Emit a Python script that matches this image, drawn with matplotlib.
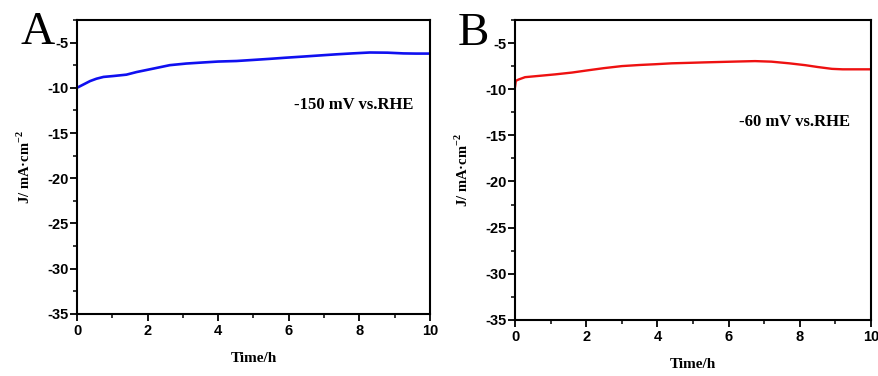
import numpy as np
import matplotlib.pyplot as plt
from matplotlib.ticker import MultipleLocator

plt.rcParams['axes.unicode_minus'] = False
plt.rcParams['mathtext.fontset'] = 'custom'
plt.rcParams['mathtext.rm'] = 'Liberation Serif:bold'
plt.rcParams['mathtext.bf'] = 'Liberation Serif:bold'

# panel A, -150 mV vs. RHE
time_a = [0, 0.2, 0.37, 0.55, 0.75, 1.03, 1.4, 1.69, 2.2, 2.63, 3.1, 3.58, 4.0, 4.52, 5.0, 5.47, 5.9, 6.41, 6.9, 7.36, 7.8, 8.3, 8.8, 9.25, 9.6, 10]
j_a = [-10.0, -9.6, -9.26, -9.0, -8.8, -8.7, -8.55, -8.26, -7.85, -7.5, -7.32, -7.2, -7.1, -7.04, -6.92, -6.8, -6.68, -6.55, -6.42, -6.3, -6.2, -6.1, -6.12, -6.2, -6.22, -6.22]

# panel B, -60 mV vs. RHE
time_b = [0, 0.02, 0.1, 0.28, 0.7, 1.12, 1.6, 2.06, 2.5, 3.0, 3.5, 3.93, 4.4, 4.87, 5.3, 5.8, 6.3, 6.74, 7.2, 7.7, 8.15, 8.5, 8.9, 9.2, 9.55, 10]
j_b = [-9.7, -9.1, -8.95, -8.7, -8.55, -8.4, -8.2, -7.95, -7.72, -7.5, -7.38, -7.3, -7.2, -7.15, -7.1, -7.05, -7.0, -6.96, -7.02, -7.2, -7.4, -7.6, -7.8, -7.85, -7.85, -7.85]

serif = 'Liberation Serif'
sans = 'Liberation Sans'

fig = plt.figure(figsize=(8.79, 3.76), dpi=100)
ax_a = fig.add_axes([0.0876, 0.165, 0.4014, 0.782])
ax_b = fig.add_axes([0.586, 0.149, 0.405, 0.798])

ax_a.plot(time_a, j_a, color='#1010f0', lw=1.9)
ax_b.plot(time_b, j_b, color='#ee1111', lw=1.7)

for ax, letter, note, note_xy in [(ax_a, 'A', '-150 mV vs.RHE', (0.952, 0.711)),
                                  (ax_b, 'B', '-60 mV vs.RHE', (0.941, 0.66))]:
    ax.set_xlim(0, 10)
    ax.set_ylim(-35, -2.5)
    ax.xaxis.set_major_locator(MultipleLocator(2))
    ax.xaxis.set_minor_locator(MultipleLocator(1))
    ax.yaxis.set_major_locator(MultipleLocator(5))
    ax.yaxis.set_minor_locator(MultipleLocator(2.5))
    ax.tick_params(which='major', direction='out', length=5, width=1.3)
    ax.tick_params(which='minor', direction='out', length=3, width=1.1)
    for lab in ax.get_xticklabels() + ax.get_yticklabels():
        lab.set_fontfamily(sans)
        lab.set_fontweight('bold')
        lab.set_fontsize(10.5)
    ax.tick_params(axis='x', pad=2)
    ax.tick_params(axis='y', pad=1)
    for sp in ax.spines.values():
        sp.set_linewidth(1.5)
    ax.set_xlabel('Time/h', fontfamily=serif, fontweight='bold', fontsize=11, labelpad=10)
    ax.set_ylabel('J/ mA·cm$^{-2}$', fontfamily=serif, fontweight='bold', fontsize=10.5, labelpad=10)
    ax.text(*note_xy, note, transform=ax.transAxes, ha='right', va='center',
            fontfamily=serif, fontweight='bold', fontsize=12)
    ax.text(-0.16, 0.955, letter, transform=ax.transAxes, ha='left', va='center',
            fontfamily=serif, fontsize=34)

fig.savefig('out.png', dpi=100)
